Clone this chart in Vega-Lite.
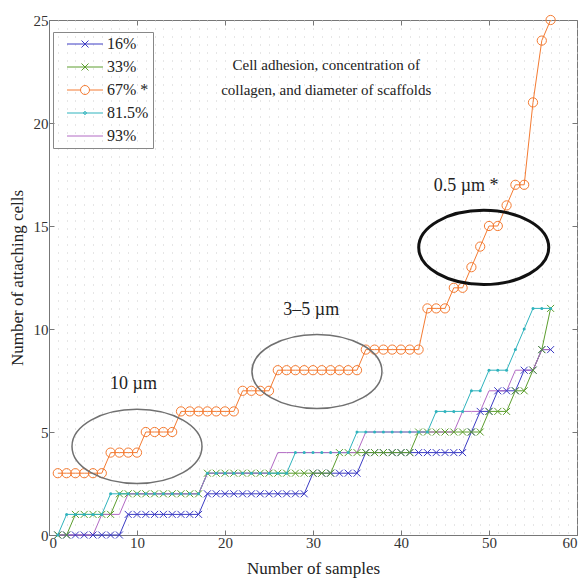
{
  "$schema": "https://vega.github.io/schema/vega-lite/v6.json",
  "width": 528,
  "height": 515,
  "autosize": "none",
  "padding": {"left": 49, "top": 20, "right": 11, "bottom": 45},
  "config": {
    "view": {"stroke": "#777", "strokeWidth": 1},
    "font": "Liberation Serif",
    "axis": {"labelFont": "Liberation Serif", "titleFont": "Liberation Serif", "labelOverlap": false},
    "legend": {"labelFont": "Liberation Serif", "titleFont": "Liberation Serif"}
  },
  "resolve": {"axis": {"x": "independent", "y": "independent"}},
  "datasets": {
    "series": [
      {"s":"16%","x":1,"y":0},{"s":"16%","x":2,"y":0},{"s":"16%","x":3,"y":0},{"s":"16%","x":4,"y":0},{"s":"16%","x":5,"y":0},{"s":"16%","x":6,"y":0},{"s":"16%","x":7,"y":0},{"s":"16%","x":8,"y":0},
      {"s":"16%","x":9,"y":1},{"s":"16%","x":10,"y":1},{"s":"16%","x":11,"y":1},{"s":"16%","x":12,"y":1},{"s":"16%","x":13,"y":1},{"s":"16%","x":14,"y":1},{"s":"16%","x":15,"y":1},{"s":"16%","x":16,"y":1},{"s":"16%","x":17,"y":1},
      {"s":"16%","x":18,"y":2},{"s":"16%","x":19,"y":2},{"s":"16%","x":20,"y":2},{"s":"16%","x":21,"y":2},{"s":"16%","x":22,"y":2},{"s":"16%","x":23,"y":2},{"s":"16%","x":24,"y":2},{"s":"16%","x":25,"y":2},{"s":"16%","x":26,"y":2},{"s":"16%","x":27,"y":2},{"s":"16%","x":28,"y":2},{"s":"16%","x":29,"y":2},
      {"s":"16%","x":30,"y":3},{"s":"16%","x":31,"y":3},{"s":"16%","x":32,"y":3},{"s":"16%","x":33,"y":3},{"s":"16%","x":34,"y":3},{"s":"16%","x":35,"y":3},
      {"s":"16%","x":36,"y":4},{"s":"16%","x":37,"y":4},{"s":"16%","x":38,"y":4},{"s":"16%","x":39,"y":4},{"s":"16%","x":40,"y":4},{"s":"16%","x":41,"y":4},{"s":"16%","x":42,"y":4},{"s":"16%","x":43,"y":4},{"s":"16%","x":44,"y":4},{"s":"16%","x":45,"y":4},{"s":"16%","x":46,"y":4},{"s":"16%","x":47,"y":4},
      {"s":"16%","x":48,"y":5},{"s":"16%","x":49,"y":6},{"s":"16%","x":50,"y":6},{"s":"16%","x":51,"y":7},{"s":"16%","x":52,"y":7},{"s":"16%","x":53,"y":7},{"s":"16%","x":54,"y":8},{"s":"16%","x":55,"y":8},{"s":"16%","x":56,"y":9},{"s":"16%","x":57,"y":9},

      {"s":"33%","x":1,"y":0},{"s":"33%","x":2,"y":0},
      {"s":"33%","x":3,"y":1},{"s":"33%","x":4,"y":1},{"s":"33%","x":5,"y":1},{"s":"33%","x":6,"y":1},{"s":"33%","x":7,"y":1},
      {"s":"33%","x":8,"y":2},{"s":"33%","x":9,"y":2},{"s":"33%","x":10,"y":2},{"s":"33%","x":11,"y":2},{"s":"33%","x":12,"y":2},{"s":"33%","x":13,"y":2},{"s":"33%","x":14,"y":2},{"s":"33%","x":15,"y":2},{"s":"33%","x":16,"y":2},{"s":"33%","x":17,"y":2},
      {"s":"33%","x":18,"y":3},{"s":"33%","x":19,"y":3},{"s":"33%","x":20,"y":3},{"s":"33%","x":21,"y":3},{"s":"33%","x":22,"y":3},{"s":"33%","x":23,"y":3},{"s":"33%","x":24,"y":3},{"s":"33%","x":25,"y":3},{"s":"33%","x":26,"y":3},{"s":"33%","x":27,"y":3},{"s":"33%","x":28,"y":3},{"s":"33%","x":29,"y":3},{"s":"33%","x":30,"y":3},{"s":"33%","x":31,"y":3},{"s":"33%","x":32,"y":3},
      {"s":"33%","x":33,"y":4},{"s":"33%","x":34,"y":4},{"s":"33%","x":35,"y":4},{"s":"33%","x":36,"y":4},{"s":"33%","x":37,"y":4},{"s":"33%","x":38,"y":4},{"s":"33%","x":39,"y":4},{"s":"33%","x":40,"y":4},{"s":"33%","x":41,"y":4},
      {"s":"33%","x":42,"y":5},{"s":"33%","x":43,"y":5},{"s":"33%","x":44,"y":5},{"s":"33%","x":45,"y":5},{"s":"33%","x":46,"y":5},{"s":"33%","x":47,"y":5},{"s":"33%","x":48,"y":5},{"s":"33%","x":49,"y":5},
      {"s":"33%","x":50,"y":6},{"s":"33%","x":51,"y":6},{"s":"33%","x":52,"y":6},{"s":"33%","x":53,"y":7},{"s":"33%","x":54,"y":7},{"s":"33%","x":55,"y":8},{"s":"33%","x":56,"y":9},{"s":"33%","x":57,"y":11},

      {"s":"67% *","x":1,"y":3},{"s":"67% *","x":2,"y":3},{"s":"67% *","x":3,"y":3},{"s":"67% *","x":4,"y":3},{"s":"67% *","x":5,"y":3},{"s":"67% *","x":6,"y":3},
      {"s":"67% *","x":7,"y":4},{"s":"67% *","x":8,"y":4},{"s":"67% *","x":9,"y":4},{"s":"67% *","x":10,"y":4},
      {"s":"67% *","x":11,"y":5},{"s":"67% *","x":12,"y":5},{"s":"67% *","x":13,"y":5},{"s":"67% *","x":14,"y":5},
      {"s":"67% *","x":15,"y":6},{"s":"67% *","x":16,"y":6},{"s":"67% *","x":17,"y":6},{"s":"67% *","x":18,"y":6},{"s":"67% *","x":19,"y":6},{"s":"67% *","x":20,"y":6},{"s":"67% *","x":21,"y":6},
      {"s":"67% *","x":22,"y":7},{"s":"67% *","x":23,"y":7},{"s":"67% *","x":24,"y":7},{"s":"67% *","x":25,"y":7},
      {"s":"67% *","x":26,"y":8},{"s":"67% *","x":27,"y":8},{"s":"67% *","x":28,"y":8},{"s":"67% *","x":29,"y":8},{"s":"67% *","x":30,"y":8},{"s":"67% *","x":31,"y":8},{"s":"67% *","x":32,"y":8},{"s":"67% *","x":33,"y":8},{"s":"67% *","x":34,"y":8},{"s":"67% *","x":35,"y":8},
      {"s":"67% *","x":36,"y":9},{"s":"67% *","x":37,"y":9},{"s":"67% *","x":38,"y":9},{"s":"67% *","x":39,"y":9},{"s":"67% *","x":40,"y":9},{"s":"67% *","x":41,"y":9},{"s":"67% *","x":42,"y":9},
      {"s":"67% *","x":43,"y":11},{"s":"67% *","x":44,"y":11},{"s":"67% *","x":45,"y":11},{"s":"67% *","x":46,"y":12},{"s":"67% *","x":47,"y":12},{"s":"67% *","x":48,"y":13},{"s":"67% *","x":49,"y":14},{"s":"67% *","x":50,"y":15},{"s":"67% *","x":51,"y":15},{"s":"67% *","x":52,"y":16},{"s":"67% *","x":53,"y":17},{"s":"67% *","x":54,"y":17},{"s":"67% *","x":55,"y":21},{"s":"67% *","x":56,"y":24},{"s":"67% *","x":57,"y":25},

      {"s":"81.5%","x":1,"y":0},
      {"s":"81.5%","x":2,"y":1},{"s":"81.5%","x":3,"y":1},{"s":"81.5%","x":4,"y":1},{"s":"81.5%","x":5,"y":1},{"s":"81.5%","x":6,"y":1},
      {"s":"81.5%","x":7,"y":2},{"s":"81.5%","x":8,"y":2},{"s":"81.5%","x":9,"y":2},{"s":"81.5%","x":10,"y":2},{"s":"81.5%","x":11,"y":2},{"s":"81.5%","x":12,"y":2},{"s":"81.5%","x":13,"y":2},{"s":"81.5%","x":14,"y":2},{"s":"81.5%","x":15,"y":2},{"s":"81.5%","x":16,"y":2},{"s":"81.5%","x":17,"y":2},
      {"s":"81.5%","x":18,"y":3},{"s":"81.5%","x":19,"y":3},{"s":"81.5%","x":20,"y":3},{"s":"81.5%","x":21,"y":3},{"s":"81.5%","x":22,"y":3},{"s":"81.5%","x":23,"y":3},{"s":"81.5%","x":24,"y":3},{"s":"81.5%","x":25,"y":3},{"s":"81.5%","x":26,"y":3},{"s":"81.5%","x":27,"y":3},
      {"s":"81.5%","x":28,"y":4},{"s":"81.5%","x":29,"y":4},{"s":"81.5%","x":30,"y":4},{"s":"81.5%","x":31,"y":4},{"s":"81.5%","x":32,"y":4},{"s":"81.5%","x":33,"y":4},{"s":"81.5%","x":34,"y":4},
      {"s":"81.5%","x":35,"y":5},{"s":"81.5%","x":36,"y":5},{"s":"81.5%","x":37,"y":5},{"s":"81.5%","x":38,"y":5},{"s":"81.5%","x":39,"y":5},{"s":"81.5%","x":40,"y":5},{"s":"81.5%","x":41,"y":5},{"s":"81.5%","x":42,"y":5},{"s":"81.5%","x":43,"y":5},
      {"s":"81.5%","x":44,"y":6},{"s":"81.5%","x":45,"y":6},{"s":"81.5%","x":46,"y":6},{"s":"81.5%","x":47,"y":6},
      {"s":"81.5%","x":48,"y":7},{"s":"81.5%","x":49,"y":7},{"s":"81.5%","x":50,"y":8},{"s":"81.5%","x":51,"y":8},{"s":"81.5%","x":52,"y":8},{"s":"81.5%","x":53,"y":9},{"s":"81.5%","x":54,"y":10},{"s":"81.5%","x":55,"y":11},{"s":"81.5%","x":56,"y":11},{"s":"81.5%","x":57,"y":11},

      {"s":"93%","x":1,"y":0},{"s":"93%","x":2,"y":0},{"s":"93%","x":3,"y":0},{"s":"93%","x":4,"y":0},{"s":"93%","x":5,"y":0},
      {"s":"93%","x":6,"y":1},{"s":"93%","x":7,"y":1},{"s":"93%","x":8,"y":1},
      {"s":"93%","x":9,"y":2},{"s":"93%","x":10,"y":2},{"s":"93%","x":11,"y":2},{"s":"93%","x":12,"y":2},{"s":"93%","x":13,"y":2},{"s":"93%","x":14,"y":2},{"s":"93%","x":15,"y":2},{"s":"93%","x":16,"y":2},{"s":"93%","x":17,"y":2},
      {"s":"93%","x":18,"y":3},{"s":"93%","x":19,"y":3},{"s":"93%","x":20,"y":3},{"s":"93%","x":21,"y":3},{"s":"93%","x":22,"y":3},{"s":"93%","x":23,"y":3},{"s":"93%","x":24,"y":3},{"s":"93%","x":25,"y":3},
      {"s":"93%","x":26,"y":4},{"s":"93%","x":27,"y":4},{"s":"93%","x":28,"y":4},{"s":"93%","x":29,"y":4},{"s":"93%","x":30,"y":4},{"s":"93%","x":31,"y":4},{"s":"93%","x":32,"y":4},{"s":"93%","x":33,"y":4},{"s":"93%","x":34,"y":4},{"s":"93%","x":35,"y":4},
      {"s":"93%","x":36,"y":5},{"s":"93%","x":37,"y":5},{"s":"93%","x":38,"y":5},{"s":"93%","x":39,"y":5},{"s":"93%","x":40,"y":5},{"s":"93%","x":41,"y":5},{"s":"93%","x":42,"y":5},{"s":"93%","x":43,"y":5},{"s":"93%","x":44,"y":5},{"s":"93%","x":45,"y":5},{"s":"93%","x":46,"y":5},
      {"s":"93%","x":47,"y":6},{"s":"93%","x":48,"y":6},{"s":"93%","x":49,"y":6},{"s":"93%","x":50,"y":7},{"s":"93%","x":51,"y":7},{"s":"93%","x":52,"y":7},{"s":"93%","x":53,"y":8},{"s":"93%","x":54,"y":8},{"s":"93%","x":55,"y":8},{"s":"93%","x":56,"y":9},{"s":"93%","x":57,"y":9}
    ],
    "ellipses": [
      {"x": 10.0, "y": 4.3, "k": "g"},
      {"x": 30.45, "y": 7.94, "k": "g"},
      {"x": 49.4, "y": 13.96, "k": "b"}
    ],
    "notes": [
      {"x": 9.6, "y": 7.33, "t": "10 µm"},
      {"x": 29.8, "y": 10.9, "t": "3–5 µm"},
      {"x": 47.4, "y": 16.94, "t": "0.5 µm *"}
    ],
    "heading": [
      {"x": 31.5, "y": 22.82, "t": "Cell adhesion, concentration of"},
      {"x": 31.5, "y": 21.6, "t": "collagen, and diameter of scaffolds"}
    ]
  },
  "layer": [
    {
      "data": {"name": "series"},
      "mark": {"type": "line", "strokeWidth": 1},
      "encoding": {
        "x": {
          "field": "x", "type": "quantitative",
          "scale": {"domain": [0, 60], "nice": false},
          "axis": {
            "title": "Number of samples",
            "values": [0,1,2,3,4,5,6,7,8,9,10,11,12,13,14,15,16,17,18,19,20,21,22,23,24,25,26,27,28,29,30,31,32,33,34,35,36,37,38,39,40,41,42,43,44,45,46,47,48,49,50,51,52,53,54,55,56,57,58,59,60],
            "labelExpr": "datum.value % 10 === 0 ? datum.label : ''",
            "labelOverlap": false,
            "labelBound": false,
            "tickSize": -5,
            "tickOpacity": {"condition": {"test": "datum.value % 10 === 0", "value": 1}, "value": 0},
            "grid": true, "gridDash": [1, 7], "gridColor": "#cccccc", "gridWidth": 1,
            "labelFont": "Liberation Serif", "labelFontSize": 15, "labelColor": "#333", "labelPadding": 5,
            "titleFont": "Liberation Serif", "titleFontSize": 17, "titleFontWeight": "normal", "titleColor": "#222", "titlePadding": 10,
            "domainColor": "#777", "tickColor": "#777"
          }
        },
        "y": {
          "field": "y", "type": "quantitative",
          "scale": {"domain": [0, 25], "nice": false},
          "axis": {
            "title": "Number of attaching cells",
            "values": [0, 5, 10, 15, 20, 25],
            "labelOverlap": false,
            "tickSize": -5, "grid": false,
            "labelFont": "Liberation Serif", "labelFontSize": 15, "labelColor": "#333", "labelPadding": 6,
            "titleFont": "Liberation Serif", "titleFontSize": 17, "titleFontWeight": "normal", "titleColor": "#222", "titlePadding": 7,
            "domainColor": "#777", "tickColor": "#777"
          }
        },
        "color": {
          "field": "s", "type": "nominal",
          "scale": {"domain": ["16%", "33%", "67% *", "81.5%", "93%"], "range": ["#3c3cc4", "#5c9e2e", "#f47b32", "#2fb3bd", "#b26ac4"]},
          "legend": {
            "title": null, "orient": "none", "legendX": 4, "legendY": 12,
            "padding": 4, "strokeColor": "#888",
            "symbolSize": 64, "symbolStrokeWidth": 1, "labelOffset": 34, "rowPadding": 7,
            "labelFont": "Liberation Serif", "labelFontSize": 16, "labelColor": "#222",
            "encode": {
              "symbols": {
                "update": {
                  "shape": {"signal": "datum.value === '16%' || datum.value === '33%' ? 'M0.5,0L9.5,0M4.125,-0.875L5.875,0.875M4.125,0.875L5.875,-0.875' : datum.value === '67% *' ? 'M0.5,0L3.875,0M6.125,0L9.5,0M6.125,0A1.125,1.125,0,1,1,3.875,0A1.125,1.125,0,1,1,6.125,0' : datum.value === '81.5%' ? 'M0.5,0L9.5,0M5.35,0A0.35,0.35,0,1,1,4.65,0A0.35,0.35,0,1,1,5.35,0' : 'M0.5,0L9.5,0'"},
                  "fill": {"value": "transparent"}
                }
              },
              "labels": {
                "update": {"font": {"value": "Liberation Serif"}}
              }
            }
          }
        },
        "order": {"field": "x"}
      }
    },
    {
      "data": {"name": "series"},
      "transform": [{"filter": "datum.s === '16%'"}],
      "mark": {"type": "point", "shape": "M-1,-1L1,1M-1,1L1,-1", "size": 49, "filled": false, "strokeWidth": 1, "color": "#3c3cc4", "opacity": 1},
      "encoding": {"x": {"field": "x", "type": "quantitative", "axis": null}, "y": {"field": "y", "type": "quantitative", "axis": null}}
    },
    {
      "data": {"name": "series"},
      "transform": [{"filter": "datum.s === '33%'"}],
      "mark": {"type": "point", "shape": "M-1,-1L1,1M-1,1L1,-1", "size": 49, "filled": false, "strokeWidth": 1, "color": "#5c9e2e", "opacity": 1},
      "encoding": {"x": {"field": "x", "type": "quantitative", "axis": null}, "y": {"field": "y", "type": "quantitative", "axis": null}}
    },
    {
      "data": {"name": "series"},
      "transform": [{"filter": "datum.s === '67% *'"}],
      "mark": {"type": "point", "shape": "circle", "size": 85, "filled": false, "strokeWidth": 1, "color": "#f47b32", "opacity": 1},
      "encoding": {"x": {"field": "x", "type": "quantitative", "axis": null}, "y": {"field": "y", "type": "quantitative", "axis": null}}
    },
    {
      "data": {"name": "series"},
      "transform": [{"filter": "datum.s === '81.5%'"}],
      "mark": {"type": "point", "shape": "circle", "size": 9, "filled": true, "color": "#2fb3bd", "opacity": 1},
      "encoding": {"x": {"field": "x", "type": "quantitative", "axis": null}, "y": {"field": "y", "type": "quantitative", "axis": null}}
    },
    {
      "data": {"name": "ellipses"},
      "transform": [{"filter": "datum.k === 'g'"}],
      "mark": {"type": "point", "shape": "M-1,0A1,0.57,0,1,0,1,0A1,0.57,0,1,0,-1,0", "size": 16900, "filled": false, "strokeWidth": 1.5, "color": "#707070", "opacity": 1},
      "encoding": {"x": {"field": "x", "type": "quantitative", "axis": null}, "y": {"field": "y", "type": "quantitative", "axis": null}}
    },
    {
      "data": {"name": "ellipses"},
      "transform": [{"filter": "datum.k === 'b'"}],
      "mark": {"type": "point", "shape": "M-1,0A1,0.57,0,1,0,1,0A1,0.57,0,1,0,-1,0", "size": 16900, "filled": false, "strokeWidth": 3, "color": "#111", "opacity": 1},
      "encoding": {"x": {"field": "x", "type": "quantitative", "axis": null}, "y": {"field": "y", "type": "quantitative", "axis": null}}
    },
    {
      "data": {"name": "notes"},
      "mark": {"type": "text", "font": "Liberation Serif", "fontSize": 18, "color": "#222", "align": "center", "baseline": "middle"},
      "encoding": {"x": {"field": "x", "type": "quantitative", "axis": null}, "y": {"field": "y", "type": "quantitative", "axis": null}, "text": {"field": "t"}}
    },
    {
      "data": {"name": "heading"},
      "mark": {"type": "text", "font": "Liberation Serif", "fontSize": 15, "color": "#222", "align": "center", "baseline": "middle"},
      "encoding": {
        "x": {"field": "x", "type": "quantitative", "axis": {"orient": "top", "labels": false, "title": null, "domain": false, "grid": false, "tickSize": -5, "tickColor": "#777", "values": [0, 10, 20, 30, 40, 50, 60]}},
        "y": {"field": "y", "type": "quantitative", "axis": {"orient": "right", "labels": false, "title": null, "domain": false, "grid": false, "tickSize": -5, "tickColor": "#777", "values": [0, 5, 10, 15, 20, 25]}},
        "text": {"field": "t"}
      }
    }
  ]
}
